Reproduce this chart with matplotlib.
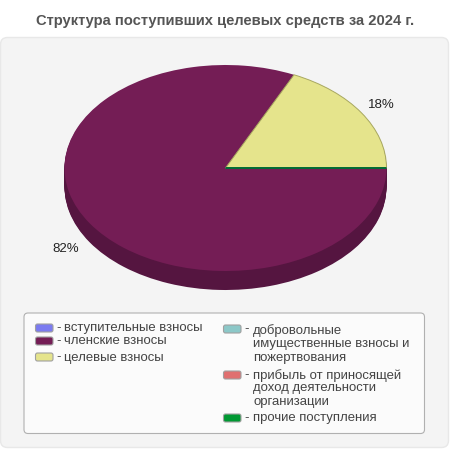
import matplotlib
matplotlib.use('Agg')
import matplotlib.pyplot as plt
from matplotlib.patches import FancyBboxPatch

plt.rcParams['font.family'] = ['Liberation Sans', 'DejaVu Sans']

TITLE = 'Структура поступивших целевых средств за 2024 г.'
values = [0, 82, 18, 0, 0, 0]
pct_labels = ['82%', '18%']
colors = ['#7b7bf0', '#741d55', '#e5e48c', '#8cc8c8', '#e07070', '#009933']
edges = ['#7b7bf0', '#741d55', '#a8a860', '#8cc8c8', '#e07070', '#006b35']
side_color = '#551540'

legend_left = [('вступительные взносы', colors[0], 328, [328]),
               ('членские взносы', colors[1], 341, [341]),
               ('целевые взносы', colors[2], 357, [357])]
legend_right = [('добровольные\nимущественные взносы и\nпожертвования', colors[3], 329, [330, 344, 358]),
                ('прибыль от приносящей\nдоход деятельности\nорганизации', colors[4], 375, [375, 388, 402]),
                ('прочие поступления', colors[5], 418, [418])]

W, H = 450, 450
CX, CY, RX, RY, DEPTH = 225.5, 168, 161, 103, 19

fig = plt.figure(figsize=(4.5, 4.5), dpi=100)
bg = fig.add_axes([0, 0, 1, 1])
bg.set_xlim(0, W)
bg.set_ylim(H, 0)
bg.axis('off')

bg.add_patch(FancyBboxPatch((6, 43), 437, 399, boxstyle='round,pad=5.5,rounding_size=7',
                            fc='#f4f4f4', ec='#e8e8e8', lw=1))
bg.add_patch(FancyBboxPatch((28, 317), 392.5, 112.5, boxstyle='round,pad=4,rounding_size=4',
                            fc='#fbfbfb', ec='#b0b0b0', lw=0.8))
bg.text(225, 21.5, TITLE, ha='center', va='center', fontsize=10.65, fontweight='bold', color='#555555')


def legend_column(items, sw_x, text_x):
    for label, color, sw_y, ys in items:
        bg.add_patch(FancyBboxPatch((sw_x + 1.5, sw_y - 2.5), 14.5, 5, boxstyle='round,pad=1.5,rounding_size=2',
                                    fc=color, ec='#a0a0a0', lw=0.8))
        bg.text(sw_x + 21, sw_y, '-', ha='left', va='center', fontsize=9.45, color='#444444')
        for line, y in zip(label.split('\n'), ys):
            bg.text(text_x, y + 0.5, line, ha='left', va='center', fontsize=9.45, color='#444444')


legend_column(legend_left, 35.5, 64)
legend_column(legend_right, 223.5, 253)

# pie axes: one data unit = RX px across, RY px down, so circle becomes ellipse
pad = 1.4
ax = fig.add_axes([(CX - RX * pad) / W, 1 - (CY + RY * pad) / H, 2 * RX * pad / W, 2 * RY * pad / H], zorder=2)
ax.patch.set_alpha(0)

# side of the disc, stacked copies going down
for step in range(DEPTH, 0, -1):
    ax.pie(values, colors=[side_color] * len(values), startangle=0, counterclock=False,
           center=(0, -step / RY), radius=1, wedgeprops={'linewidth': 0})

wedges, _ = ax.pie(values, colors=colors, startangle=0, counterclock=False, radius=1,
                   wedgeprops={'linewidth': 0})
for w, e, v in zip(wedges, edges, values):
    if v > 0:
        w.set_edgecolor(e)
        w.set_linewidth(0.7)
wedges[1].set_linewidth(0)
# zero share slices end on the start line, last one shows as the green line
wedges[-1].set_edgecolor(edges[-1])
wedges[-1].set_linewidth(1.4)
wedges[-1].set_zorder(5)

ax.set_aspect('auto')
ax.set_xlim(-pad, pad)
ax.set_ylim(-pad, pad)
ax.axis('off')

ax.text(-0.99, -0.785, pct_labels[0], transform=ax.transData, ha='center', va='center', fontsize=9.5, color='#222222')
ax.text(0.97, 0.615, pct_labels[1], transform=ax.transData, ha='center', va='center', fontsize=9.5, color='#222222')

fig.savefig('out.png', dpi=100)
